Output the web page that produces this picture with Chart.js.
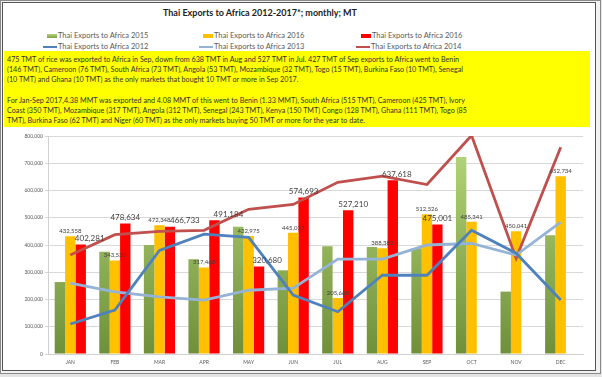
<!DOCTYPE html>
<html>
<head>
<meta charset="utf-8">
<script src="https://cdn.jsdelivr.net/npm/chart.js@4.4.0/dist/chart.umd.min.js"></script>
<style>
  body { margin: 0; background: #e4e4e4; }
  #wrap { position: relative; width: 602px; height: 377px; overflow: hidden; background: #e4e4e4; font-family: Lato, "Liberation Sans", sans-serif; }
  #outer { position: absolute; left: 0; top: 0; width: 599px; height: 372px; border: 1px solid #8a8a8a; background: #f2f2f2; }
  #frame { position: absolute; left: 2px; top: 2px; width: 592px; height: 367px; border: 1px solid #555; background: #fff; }
  #title { position: absolute; left: 0; width: 520px; top: 7px; text-align: center; font-weight: bold; font-size: 9px; color: #222; }
  .leg { position: absolute; font-size: 7.5px; color: #595959; white-space: nowrap; line-height: 9px; }
  .leg i { display: inline-block; vertical-align: middle; margin-right: 1px; }
  .box { width: 10px; height: 4px; }
  .ln { width: 14px; height: 2px; }
  #note { position: absolute; left: 4px; top: 51px; width: 586px; height: 76px; background: #ffff00; color: #333; font-size: 7.2px; line-height: 10.2px; padding: 4px 0 0 3px; box-sizing: border-box; white-space: nowrap; }
  canvas { position: absolute; left: 0; top: 0; }
</style>
</head>
<body>
<div id="wrap">
  <div id="outer"></div>
  <div id="frame"></div>
  <div id="title">Thai Exports to Africa 2012-2017*; monthly; MT</div>
  <div class="leg" style="left:47px;top:31px"><i class="box" style="background:linear-gradient(#b4d47a,#7f9f45)"></i>Thai Exports to Africa 2015</div>
  <div class="leg" style="left:203px;top:31px"><i class="box" style="background:#ffc000"></i>Thai Exports to Africa 2016</div>
  <div class="leg" style="left:361px;top:31px"><i class="box" style="background:#ff0000"></i>Thai Exports to Africa 2016</div>
  <div class="leg" style="left:43px;top:42px"><i class="ln" style="background:#4f81bd"></i>Thai Exports to Africa 2012</div>
  <div class="leg" style="left:199px;top:42px"><i class="ln" style="background:#95b3d7"></i>Thai Exports to Africa 2013</div>
  <div class="leg" style="left:356px;top:42px"><i class="ln" style="background:#c0504d"></i>Thai Exports to Africa 2014</div>
  <div id="note">475 TMT of rice was exported to Africa in Sep, down from 638 TMT in Aug and 527 TMT in Jul. 427 TMT of Sep exports to Africa went to Benin<br>(146 TMT), Cameroon (76 TMT), South Africa (73 TMT), Angola (53 TMT), Mozambique (32 TMT), Togo (15 TMT), Burkina Faso (10 TMT), Senegal<br>(10 TMT) and Ghana (10 TMT) as the only markets that bought 10 TMT or more in Sep 2017.<br><br>For Jan-Sep 2017,4.38 MMT was exported and 4.08 MMT of this went to Benin (1.33 MMT), South Africa (515 TMT), Cameroon (425 TMT), Ivory<br>Coast (350 TMT), Mozambique (317 TMT), Angola (312 TMT), Senegal (243 TMT), Kenya (150 TMT) Congo (128 TMT), Ghana (111 TMT), Togo (85<br>TMT), Burkina Faso (62 TMT) and Niger (60 TMT) as the only markets buying 50 TMT or more for the year to date.</div>
  <canvas id="myChart" width="602" height="377"></canvas>
</div>
<script>
// months and values (MT)
const months = ['JAN', 'FEB', 'MAR', 'APR', 'MAY', 'JUN', 'JUL', 'AUG', 'SEP', 'OCT', 'NOV', 'DEC'];

const exports2015 = [264000, 375000, 400000, 348000, 467000, 307000, 395000, 393000, 388000, 723000, 229000, 436000];
const exports2016 = [432558, 343530, 472348, 317460, 432975, 445017, 205668, 388382, 512526, 485341, 450041, 652734];
const exports2017 = [402281, 478634, 466733, 491184, 320680, 574693, 527210, 637618, 475001, null, null, null];

const exports2012 = [110000, 161000, 380000, 440000, 428000, 216000, 155000, 289000, 289000, 454000, 370000, 198000];
const exports2013 = [260000, 228000, 210000, 198000, 234000, 242000, 348000, 348000, 400000, 406000, 363000, 484000];
const exports2014 = [363000, 438000, 450000, 454000, 531000, 549000, 630000, 653000, 622000, 802000, 351000, 759000];

const yTicks = [0, 100000, 200000, 300000, 400000, 500000, 600000, 700000, 800000];

// small sideways nudges of the red value labels, as placed in the original
var redNudge = [9, 0, 15, 14, 8, 0, 5, 4, 0, 0, 0, 0];

function fmt(v) {
  return v.toLocaleString('en-US');
}

function greenFill(context) {
  const chart = context.chart;
  const area = chart.chartArea;
  if (!area) return '#9bbb59';
  const g = chart.ctx.createLinearGradient(0, area.top, 0, area.bottom);
  g.addColorStop(0, '#b8d97c');
  g.addColorStop(1, '#6f8f3a');
  return g;
}

const valueLabels = {
  id: 'valueLabels',
  afterDraw(chart) {
    const ctx = chart.ctx;
    ctx.save();
    ctx.fillStyle = '#404040';
    ctx.textAlign = 'center';
    ctx.textBaseline = 'bottom';

    ctx.font = '6px Lato';
    chart.getDatasetMeta(1).data.forEach((bar, i) => {
      if (exports2016[i] == null) return;
      ctx.fillText(fmt(exports2016[i]), bar.x, bar.y - 2);
    });

    ctx.font = '8px Lato';
    chart.getDatasetMeta(2).data.forEach((bar, i) => {
      if (exports2017[i] == null) return;
      ctx.fillText(fmt(exports2017[i]), bar.x + redNudge[i], bar.y - 2);
    });
    ctx.restore();
  }
};

const data = {
  labels: months,
  datasets: [
    { label: 'Thai Exports to Africa 2015', data: exports2015, backgroundColor: greenFill, order: 2 },
    { label: 'Thai Exports to Africa 2016', data: exports2016, backgroundColor: '#ffc000', order: 2 },
    { label: 'Thai Exports to Africa 2016', data: exports2017, backgroundColor: '#ff0000', order: 2 },
    { type: 'line', label: 'Thai Exports to Africa 2012', data: exports2012, borderColor: '#4f81bd', borderWidth: 2.8, pointRadius: 0, tension: 0, order: 1 },
    { type: 'line', label: 'Thai Exports to Africa 2013', data: exports2013, borderColor: '#95b3d7', borderWidth: 2.8, pointRadius: 0, tension: 0, order: 1 },
    { type: 'line', label: 'Thai Exports to Africa 2014', data: exports2014, borderColor: '#c0504d', borderWidth: 2.8, pointRadius: 0, tension: 0, order: 1 }
  ]
};

const config = {
  type: 'bar',
  data: data,
  options: {
    responsive: false,
    animation: false,
    layout: { padding: { left: 0, right: 19, top: 136, bottom: 9 } },
    datasets: { bar: { categoryPercentage: 0.7, barPercentage: 1.0 } },
    scales: {
      x: {
        grid: { display: false, drawTicks: false },
        border: { color: '#d0d0d0' },
        ticks: { color: '#595959', font: { size: 5, family: 'Lato' }, padding: 5, maxRotation: 0 },
        afterFit: function (axis) { axis.height = 14; }
      },
      y: {
        min: 0,
        max: 800000,
        afterBuildTicks: function (axis) { axis.ticks = yTicks.map(v => ({ value: v })); },
        grid: { color: '#d9d9d9', drawTicks: true, tickLength: 3 },
        border: { color: '#d0d0d0' },
        ticks: { color: '#595959', font: { size: 5, family: 'Lato' }, padding: 2, callback: v => fmt(v) },
        afterFit: function (axis) { axis.width = 48; }
      }
    },
    plugins: {
      legend: { display: false },
      tooltip: { enabled: false }
    }
  },
  plugins: [valueLabels]
};

const myChart = new Chart(document.getElementById('myChart'), config);
</script>
</body>
</html>
